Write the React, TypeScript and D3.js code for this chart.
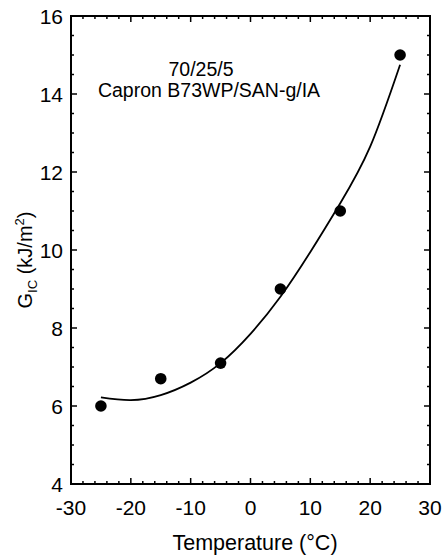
import React, { useEffect, useRef } from "react";
import * as d3 from "d3";

// measured points
const temps = [-25, -15, -5, 5, 15, 25];
const gic = [6.0, 6.7, 7.1, 9.0, 11.0, 15.0];

// fitted curve
const curveT = [-25, -20, -15, -10, -5, 0, 5, 10, 15, 20, 25];
const curveG = [6.22, 6.15, 6.28, 6.6, 7.1, 7.85, 8.8, 9.95, 11.2, 12.65, 14.75];

const xMajor = [-30, -20, -10, 0, 10, 20, 30];
const yMajor = [4, 6, 8, 10, 12, 14, 16];

const FONT = "'Liberation Sans', Arial, Helvetica, sans-serif";

export default function App() {
  const ref = useRef<SVGSVGElement>(null);

  useEffect(() => {
    const svg = d3.select(ref.current);
    svg.selectAll("*").remove();

    const margin = { top: 16, right: 12, bottom: 71, left: 71 };
    const width = 442 - margin.left - margin.right;
    const height = 555 - margin.top - margin.bottom;

    const x = d3.scaleLinear().domain([-30, 30]).range([0, width]);
    const y = d3.scaleLinear().domain([4, 16]).range([height, 0]);

    const g = svg.append("g").attr("transform", `translate(${margin.left},${margin.top})`);

    const xMinor = d3.range(-30, 30.1, 2).filter((v) => !xMajor.includes(v));
    const yMinor = d3.range(4, 16.01, 0.5).filter((v) => !yMajor.includes(v));

    // ticks on all four sides, pointing in
    const tk = g.append("g").attr("stroke", "#000").attr("stroke-width", 1.5);
    const addX = (vals: number[], len: number) => {
      vals.forEach((v) => {
        tk.append("line").attr("x1", x(v)).attr("x2", x(v)).attr("y1", height).attr("y2", height - len);
        tk.append("line").attr("x1", x(v)).attr("x2", x(v)).attr("y1", 0).attr("y2", len);
      });
    };
    const addY = (vals: number[], len: number) => {
      vals.forEach((v) => {
        tk.append("line").attr("x1", 0).attr("x2", len).attr("y1", y(v)).attr("y2", y(v));
        tk.append("line").attr("x1", width).attr("x2", width - len).attr("y1", y(v)).attr("y2", y(v));
      });
    };
    addX(xMajor, 6);
    addX(xMinor, 3);
    addY(yMajor, 6);
    addY(yMinor, 3);

    g.append("rect")
      .attr("width", width)
      .attr("height", height)
      .attr("fill", "none")
      .attr("stroke", "#000")
      .attr("stroke-width", 2);

    // tick labels
    g.selectAll(".xl")
      .data(xMajor)
      .enter()
      .append("text")
      .attr("x", (d) => x(d))
      .attr("y", height + 31)
      .attr("text-anchor", "middle")
      .attr("font-family", FONT)
      .attr("font-size", 21)
      .text((d) => String(d));

    g.selectAll(".yl")
      .data(yMajor)
      .enter()
      .append("text")
      .attr("x", -8)
      .attr("y", (d) => y(d) + 7.5)
      .attr("text-anchor", "end")
      .attr("font-family", FONT)
      .attr("font-size", 21)
      .text((d) => String(d));

    // fitted line
    const line = d3
      .line<number>()
      .x((d, i) => x(curveT[i]))
      .y((d) => y(d))
      .curve(d3.curveNatural);
    g.append("path")
      .attr("d", line(curveG))
      .attr("fill", "none")
      .attr("stroke", "#000")
      .attr("stroke-width", 1.8);

    g.selectAll(".pt")
      .data(temps)
      .enter()
      .append("circle")
      .attr("cx", (d) => x(d))
      .attr("cy", (d, i) => y(gic[i]))
      .attr("r", 5.8)
      .attr("fill", "#000");

    // annotation
    g.append("text")
      .attr("x", 130)
      .attr("y", 60)
      .attr("text-anchor", "middle")
      .attr("font-family", FONT)
      .attr("font-size", 19.5)
      .text("70/25/5");
    g.append("text")
      .attr("x", 138)
      .attr("y", 81)
      .attr("text-anchor", "middle")
      .attr("font-family", FONT)
      .attr("font-size", 19.5)
      .text("Capron B73WP/SAN-g/IA");

    // axis titles
    svg.append("text")
      .attr("x", 255)
      .attr("y", 550)
      .attr("text-anchor", "middle")
      .attr("font-family", FONT)
      .attr("font-size", 21.5)
      .text("Temperature (\u00B0C)");

    const yt = svg.append("text")
      .attr("transform", `translate(32,${margin.top + height / 2 + 10})rotate(-90)`)
      .attr("text-anchor", "middle")
      .attr("font-family", FONT)
      .attr("font-size", 20);
    yt.append("tspan").text("G");
    yt.append("tspan").attr("font-size", 13).attr("dy", 5).text("IC");
    yt.append("tspan").attr("dy", -5).text(" (kJ/m");
    yt.append("tspan").attr("font-size", 13).attr("dy", -8).text("2");
    yt.append("tspan").attr("dy", 8).text(")");
  }, []);

  return (
    <svg
      ref={ref}
      width={442}
      height={555}
      style={{ position: "absolute", left: 0, top: 0, background: "#fff" }}
    />
  );
}
